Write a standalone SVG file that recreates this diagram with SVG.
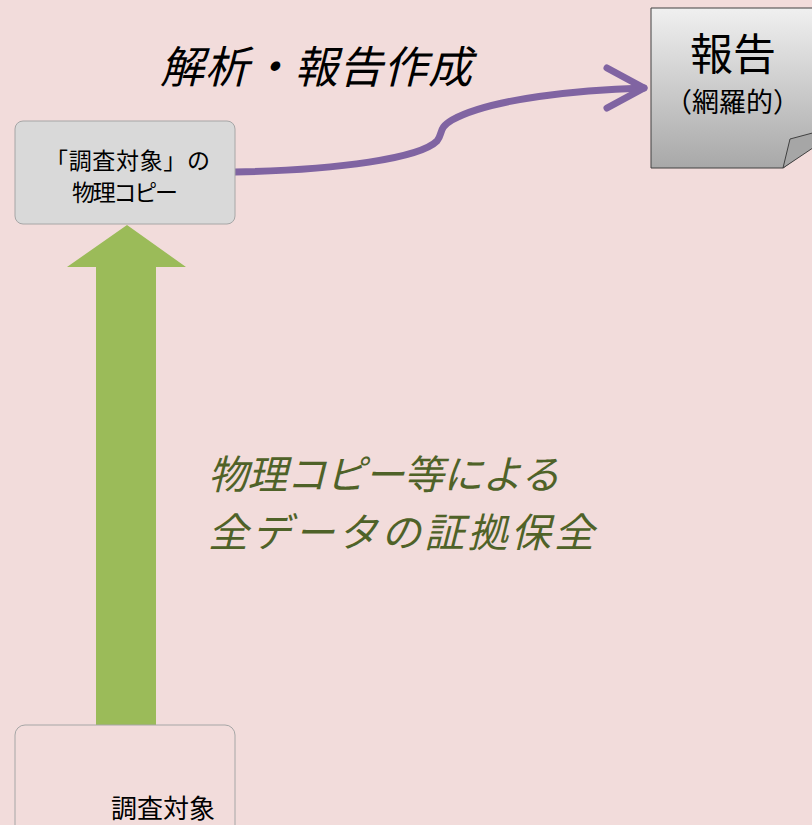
<svg xmlns="http://www.w3.org/2000/svg" width="812" height="825" viewBox="0 0 812 825">
<style>
.jp{font-family:"Noto Sans CJK JP","Noto Sans CJK SC",sans-serif}
.box{fill:#D9D9D9;stroke:#A6A6A6;stroke-width:1}
.label{font-style:italic}
</style>
<defs>
<linearGradient id="pg" x1="0" y1="0" x2="0" y2="1">
<stop offset="0" stop-color="#F0F0F0"/>
<stop offset="1" stop-color="#A8A8A8"/>
</linearGradient>
</defs>
<rect width="812" height="825" fill="#F2DCDB"/>
<g id="connectors">
<path d="M96,725 V267 H67 L127,225 L186,267 H156 V725 Z" fill="#9BBB59"/>
<path d="M235,172 C340,170 420,158 437,141 C443,134 438,128 452,120 C492,98 580,90 644,88" fill="none" stroke="#8064A2" stroke-width="7" stroke-linecap="round"/>
<path d="M607,68 L644,88 L607,108" fill="none" stroke="#8064A2" stroke-width="7" stroke-linecap="round" stroke-linejoin="round"/>
</g>
<g id="report">
<path d="M651,8 H850 V118 L783,168 H651 Z" fill="url(#pg)" stroke="#404040" stroke-width="1"/>
<path d="M783,168 L790,139 L850,123 Z" fill="#A6A6A6" stroke="#404040" stroke-width="1"/>
<text class="jp" x="733" y="70" font-size="43" text-anchor="middle" fill="#000">報告</text>
<text class="jp" x="665" y="112" font-size="27" textLength="135" lengthAdjust="spacing" fill="#000">（網羅的）</text>
</g>
<g id="copy">
<rect class="box" x="15" y="121" width="220" height="103" rx="8"/>
<text class="jp" x="45" y="169" font-size="23" textLength="165" lengthAdjust="spacing" fill="#000">「調査対象」の</text>
<text class="jp" x="72" y="201" font-size="23" textLength="106" lengthAdjust="spacing" fill="#000">物理コピー</text>
</g>
<g id="target">
<rect x="15" y="725" width="220" height="120" rx="10" fill="none" stroke="#A6A6A6" stroke-width="1"/>
<text class="jp" x="163" y="818" font-size="26" text-anchor="middle" fill="#000">調査対象</text>
</g>
<g id="labels">
<text class="jp label" x="160" y="83" font-size="44" textLength="312" fill="#000">解析・報告作成</text>
<text class="jp label" x="208" y="489" font-size="40" textLength="352" fill="#4F6228">物理コピー等による</text>
<text class="jp label" x="208" y="547" font-size="40" textLength="386" fill="#4F6228">全データの証拠保全</text>
</g>
</svg>
